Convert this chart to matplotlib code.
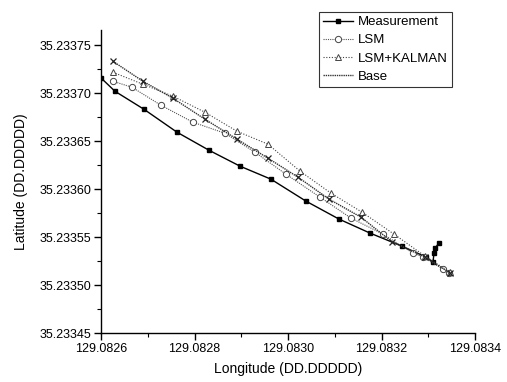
import matplotlib
matplotlib.use("Agg")
import matplotlib.pyplot as plt
from matplotlib.ticker import MultipleLocator, FormatStrFormatter

plt.rcParams['font.family'] = ['Liberation Sans', 'DejaVu Sans']

# Measurement (raw GPS)
meas_lon = [129.08260, 129.0826299, 129.0826920, 129.0827626, 129.0828310, 129.0828973,
            129.0829636, 129.0830385, 129.0831091, 129.0831754, 129.0832438, 129.0832952,
            129.0833102, 129.0833123, 129.0833144, 129.0833230]
meas_lat = [35.233716, 35.2337021, 35.2336833, 35.2336594, 35.2336406, 35.2336240,
            35.2336104, 35.2335875, 35.2335688, 35.2335542, 35.2335406, 35.2335292,
            35.2335240, 35.2335333, 35.2335385, 35.2335438]

# LSM
lsm_lon = [129.0826257, 129.0826663, 129.0827283, 129.0827968, 129.0828652, 129.0829294,
           129.0829957, 129.0830684, 129.0831348, 129.0832032, 129.0832674, 129.0832888,
           129.0833316, 129.0833444]
lsm_lat = [35.2337125, 35.2337063, 35.2336875, 35.2336698, 35.2336583, 35.2336385,
           35.2336156, 35.2335917, 35.2335698, 35.2335531, 35.2335333, 35.2335292,
           35.2335167, 35.2335125]

# LSM + KALMAN
kal_lon = [129.0826257, 129.0826898, 129.0827540, 129.0828225, 129.0828909, 129.0829572,
           129.0830257, 129.0830920, 129.0831583, 129.0832267, 129.0832930, 129.0833465]
kal_lat = [35.2337219, 35.2337094, 35.2336969, 35.2336802, 35.2336604, 35.2336469,
           35.2336188, 35.2335958, 35.2335760, 35.2335531, 35.2335302, 35.2335135]

# Base
base_lon = [129.0826257, 129.0826898, 129.0827540, 129.0828225, 129.0828909, 129.0829572,
            129.0830214, 129.0830877, 129.0831561, 129.0832225, 129.0832930, 129.0833465]
base_lat = [35.2337333, 35.2337125, 35.2336948, 35.2336729, 35.2336521, 35.2336323,
            35.2336125, 35.2335896, 35.2335708, 35.2335450, 35.2335292, 35.2335125]

fig = plt.figure(figsize=(5.07, 3.82), dpi=100)
ax = fig.add_axes([101/507, 1-333/382, 374/507, 303/382])

ax.plot(meas_lon, meas_lat, '-', color='black', lw=1.0, marker='s', ms=3.5,
        mfc='black', mec='black', label='Measurement')
ax.plot(lsm_lon, lsm_lat, linestyle=(0, (1, 1)), color='#555555', lw=0.8, marker='o',
        ms=4.5, mfc='white', mec='#444444', mew=0.7, label='LSM')
ax.plot(kal_lon, kal_lat, linestyle=(0, (1, 1.5)), color='#444444', lw=0.8, marker='^',
        ms=5, mfc='white', mec='#444444', mew=0.7, label='LSM+KALMAN')
ax.plot(base_lon, base_lat, linestyle=(0, (1, 0.6)), color='#333333', lw=1.0, label='Base')
ax.plot(base_lon, base_lat, linestyle='none', marker='x', ms=4, mec='#222222', mew=0.9)

ax.set_xlim(129.0826, 129.0834)
ax.set_ylim(35.23345, 35.233766)
ax.xaxis.set_major_locator(MultipleLocator(0.0002))
ax.xaxis.set_minor_locator(MultipleLocator(0.0001))
ax.yaxis.set_major_locator(MultipleLocator(0.00005))
ax.yaxis.set_minor_locator(MultipleLocator(0.000025))
ax.xaxis.set_major_formatter(FormatStrFormatter('%.4f'))
ax.yaxis.set_major_formatter(FormatStrFormatter('%.5f'))

for s in ['top', 'right']:
    ax.spines[s].set_visible(False)
ax.spines['left'].set_linewidth(1.0)
ax.spines['bottom'].set_linewidth(1.0)
ax.tick_params(which='major', direction='out', length=5, width=1.0, labelsize=9, pad=2)
ax.tick_params(which='minor', direction='out', length=3, width=0.8)

ax.set_xlabel('Longitude (DD.DDDDD)', fontsize=10, labelpad=5)
ax.set_ylabel('Latitude (DD.DDDDD)', fontsize=10, labelpad=8)

leg = ax.legend(loc='upper right', bbox_to_anchor=(452/507, 1-12/382),
                bbox_transform=fig.transFigure, borderaxespad=0, fontsize=9.5,
                frameon=True, fancybox=False, handlelength=2.3, handletextpad=0.4,
                labelspacing=0.45, borderpad=0.3)
leg.get_frame().set_edgecolor('black')
leg.get_frame().set_linewidth(0.8)

fig.savefig('out.png', dpi=100)
